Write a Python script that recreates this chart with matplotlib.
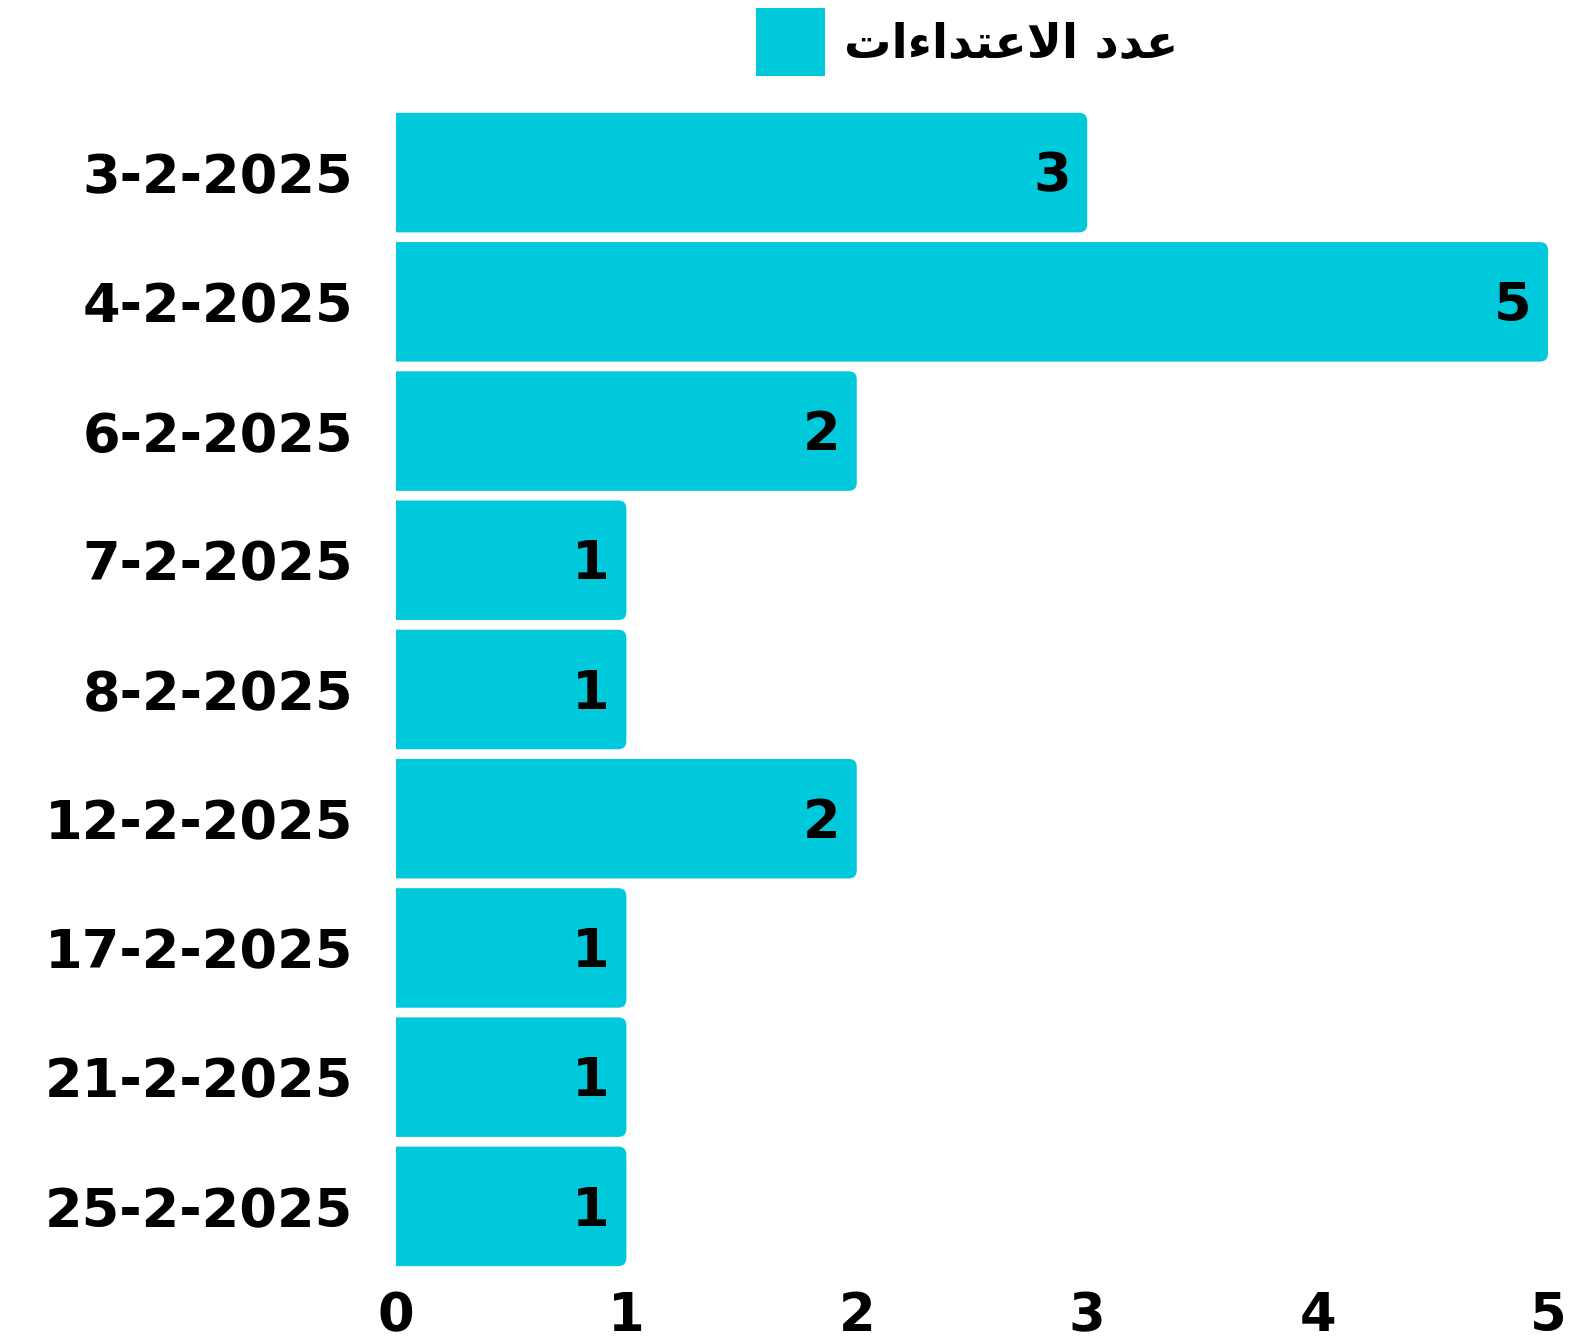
import matplotlib
matplotlib.use("Agg")
import matplotlib.pyplot as plt
from matplotlib.patches import FancyBboxPatch, Patch

plt.rcParams['font.family'] = ['DejaVu Sans']
plt.rcParams['font.weight'] = 'bold'

# data
dates = ['3-2-2025', '4-2-2025', '6-2-2025', '7-2-2025', '8-2-2025',
         '12-2-2025', '17-2-2025', '21-2-2025', '25-2-2025']
counts = [3, 5, 2, 1, 1, 2, 1, 1, 1]
x_ticks = [0, 1, 2, 3, 4, 5]

# "عدد الاعتداءات" as shaped presentation forms, in visual order
legend_label = ('\uFE95\uFE8D\uFE80\uFE8D\uFEAA\uFE98\uFECB\uFEFB\uFE8D'
                ' \uFEA9\uFEAA\uFECB')

bar_color = '#00C9DC'
bar_h = 0.925

fig = plt.figure(figsize=(15.82, 13.4), dpi=100)
ax = fig.add_axes([0.2503, 0.0515, 0.7282, 0.8679])

ax.set_xlim(0, 5)
ax.set_ylim(len(dates) - 0.5, -0.5)

# rounded right corners; left corners pushed past x=0 and clipped by the axes
aspect = (1 / 129.2) / (1 / 230.4)
for i, v in enumerate(counts):
    patch = FancyBboxPatch((-0.2, i - bar_h / 2), v + 0.2, bar_h,
                           boxstyle='round,pad=0,rounding_size=0.035',
                           mutation_aspect=aspect,
                           facecolor=bar_color, edgecolor='none')
    ax.add_patch(patch)
    ax.annotate(str(v), xy=(v, i), xytext=(-12, -3), textcoords='offset points',
                ha='right', va='center', fontsize=39, fontweight='bold',
                color='black')

ax.set_yticks(range(len(dates)))
ax.set_yticklabels(dates, fontsize=39, fontweight='bold')
ax.set_xticks(x_ticks)
ax.set_xticklabels([str(t) for t in x_ticks], fontsize=38, fontweight='bold')
ax.tick_params(axis='y', length=0, pad=31)
ax.tick_params(axis='x', length=0, pad=14)
for s in ax.spines.values():
    s.set_visible(False)

handle = Patch(facecolor=bar_color, edgecolor='none')
ax.legend([handle], [legend_label], loc='upper center',
          bbox_to_anchor=(0.6113, 1 - 8 / 1340), bbox_transform=fig.transFigure,
          frameon=False, handlelength=1.46, handleheight=1.85,
          handletextpad=0.40, borderpad=0, borderaxespad=0,
          prop={'weight': 'bold', 'size': 34})

fig.savefig('out.png', dpi=100)
